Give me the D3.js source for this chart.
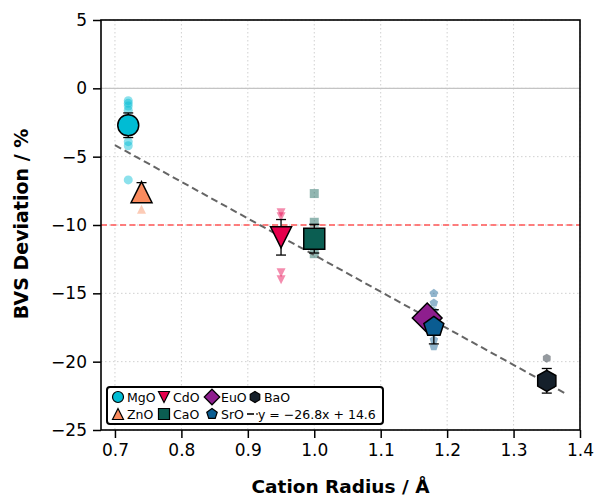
<!DOCTYPE html>
<html>
<head>
<meta charset="utf-8">
<script src="https://cdn.jsdelivr.net/npm/d3@7"></script>
<style>
  body { margin: 0; background: white; }
  text { font-family: "DejaVu Sans", sans-serif; }
</style>
</head>
<body>
<div id="chart"></div>
<script>
// oxides, cation radius (Å) and mean BVS deviation (%)
var oxides  = ["MgO", "ZnO", "CdO", "CaO", "EuO", "SrO", "BaO"];
var radius  = [0.72, 0.74, 0.95, 1.00, 1.17, 1.18, 1.35];
var meanDev = [-2.7, -7.6, -10.9, -11.0, -16.8, -17.45, -21.4];
var errDev  = [0.9, 0.7, 1.3, 1.05, 0, 1.25, 0.9];
var shapes  = ["o", "^", "v", "s", "D", "p", "h"];
var colors  = ["#00bcd4", "#f98b5e", "#e6004c", "#0b5e52", "#8e1e8e", "#0a5c91", "#15202b"];

// individual structures (faint points)
var samples = [
  [-0.9, -1.1, -1.3, -1.6, -3.9, -4.2, -6.7],
  [-8.85],
  [-9.1, -9.4, -13.5, -14.0],
  [-7.7, -9.8, -12.1],
  [],
  [-15.0, -15.7, -16.3, -18.4, -18.9],
  [-19.75]
];

// linear fit
var fitSlope = -26.8, fitIntercept = 14.6;
var fitRange = [0.70, 1.38];
var fitLabel = "y = \u221226.8x + 14.6";

var xTicks = [0.7, 0.8, 0.9, 1.0, 1.1, 1.2, 1.3, 1.4];
var yTicks = [5, 0, -5, -10, -15, -20, -25];

var width = 597, height = 496;
var svg = d3.select("#chart").append("svg")
  .attr("width", width)
  .attr("height", height);

var x = d3.scaleLinear().domain([0.679, 1.4]).range([101, 580]);
var y = d3.scaleLinear().domain([-25, 5]).range([430, 20]);

// marker shapes like matplotlib, ms = marker size in px
function marker(shape, ms) {
  var h = ms / 2, pts;
  if (shape == "o") {
    return "M" + h + ",0A" + h + "," + h + " 0 1,1 " + (-h) + ",0A" + h + "," + h + " 0 1,1 " + h + ",0Z";
  }
  if (shape == "^") pts = [[0, -h], [-h, h], [h, h]];
  else if (shape == "v") pts = [[0, h], [-h, -h], [h, -h]];
  else if (shape == "s") pts = [[-h, -h], [h, -h], [h, h], [-h, h]];
  else if (shape == "D") { var d = ms / Math.SQRT2; pts = [[0, -d], [d, 0], [0, d], [-d, 0]]; }
  else {
    var n = shape == "p" ? 5 : 6;
    pts = d3.range(n).map(function(i) {
      var a = -Math.PI / 2 + i * 2 * Math.PI / n;
      return [h * Math.cos(a), h * Math.sin(a)];
    });
  }
  return "M" + pts.map(function(p) { return p[0].toFixed(2) + "," + p[1].toFixed(2); }).join("L") + "Z";
}

// grid
svg.append("g").selectAll("line")
  .data(xTicks).enter().append("line")
  .attr("x1", function(d) { return x(d); })
  .attr("x2", function(d) { return x(d); })
  .attr("y1", y(5)).attr("y2", y(-25))
  .style("stroke", "#d0d0d0").style("stroke-width", 1).style("stroke-dasharray", "1.5,2.5");
svg.append("g").selectAll("line")
  .data(yTicks).enter().append("line")
  .attr("x1", x.range()[0]).attr("x2", x.range()[1])
  .attr("y1", function(d) { return y(d); })
  .attr("y2", function(d) { return y(d); })
  .style("stroke", "#d0d0d0").style("stroke-width", 1).style("stroke-dasharray", "1.5,2.5");

// zero line and -10 % threshold
svg.append("line")
  .attr("x1", x.range()[0]).attr("x2", x.range()[1])
  .attr("y1", y(0)).attr("y2", y(0))
  .style("stroke", "#c4c4c4").style("stroke-width", 1.2);
svg.append("line")
  .attr("x1", x.range()[0]).attr("x2", x.range()[1])
  .attr("y1", y(-10)).attr("y2", y(-10))
  .style("stroke", "#ff5555").style("stroke-width", 1.6).style("stroke-dasharray", "6,3.5");

// faint individual points
oxides.forEach(function(ox, i) {
  svg.append("g").selectAll("path")
    .data(samples[i]).enter().append("path")
    .attr("d", marker(shapes[i], 9))
    .attr("transform", function(d) { return "translate(" + x(radius[i]) + "," + y(d) + ")"; })
    .style("fill", colors[i]).style("opacity", 0.45);
});

// fit line
svg.append("line")
  .attr("x1", x(fitRange[0])).attr("y1", y(fitSlope * fitRange[0] + fitIntercept))
  .attr("x2", x(fitRange[1])).attr("y2", y(fitSlope * fitRange[1] + fitIntercept))
  .style("stroke", "#555").style("stroke-width", 2).style("stroke-dasharray", "7,4")
  .style("opacity", 0.9);

// error bars
oxides.forEach(function(ox, i) {
  if (!errDev[i]) return;
  var g = svg.append("g").style("stroke", "black").style("stroke-width", 1.3);
  var cx = x(radius[i]);
  var top = y(meanDev[i] + errDev[i]), bot = y(meanDev[i] - errDev[i]);
  g.append("line").attr("x1", cx).attr("x2", cx).attr("y1", top).attr("y2", bot);
  g.append("line").attr("x1", cx - 5).attr("x2", cx + 5).attr("y1", top).attr("y2", top);
  g.append("line").attr("x1", cx - 5).attr("x2", cx + 5).attr("y1", bot).attr("y2", bot);
});

// mean markers
svg.append("g").selectAll("path")
  .data(oxides).enter().append("path")
  .attr("d", function(d, i) { return marker(shapes[i], 21); })
  .attr("transform", function(d, i) { return "translate(" + x(radius[i]) + "," + y(meanDev[i]) + ")"; })
  .style("fill", function(d, i) { return colors[i]; })
  .style("stroke", "black").style("stroke-width", 1.5);

// axes
var xAxis = svg.append("g")
  .attr("transform", "translate(0," + y(-25) + ")")
  .call(d3.axisBottom(x).tickValues(xTicks).tickFormat(d3.format(".1f")).tickSizeOuter(0).tickSize(8).tickPadding(6));
var yAxis = svg.append("g")
  .attr("transform", "translate(" + x.range()[0] + ",0)")
  .call(d3.axisLeft(y).tickValues(yTicks).tickFormat(function(d) { return d < 0 ? "\u2212" + (-d) : d; }).tickSizeOuter(0).tickSize(8).tickPadding(6));
[xAxis, yAxis].forEach(function(a) {
  a.select(".domain").remove();
  a.selectAll("line").style("stroke", "black").style("stroke-width", 1.5);
  a.selectAll("text").style("font-size", "17px").style("font-family", "DejaVu Sans").style("fill", "black");
});

// frame
svg.append("rect")
  .attr("x", x.range()[0]).attr("y", y(5))
  .attr("width", x.range()[1] - x.range()[0]).attr("height", y(-25) - y(5))
  .style("fill", "none").style("stroke", "black").style("stroke-width", 1.6);

// axis titles
svg.append("text")
  .attr("x", (x.range()[0] + x.range()[1]) / 2).attr("y", 493)
  .attr("text-anchor", "middle")
  .style("font-size", "18.5px").style("font-weight", "bold")
  .text("Cation Radius / \u00c5");
svg.append("text")
  .attr("transform", "translate(28," + 224 + ") rotate(-90)")
  .attr("text-anchor", "middle")
  .style("font-size", "19px").style("font-weight", "bold")
  .text("BVS Deviation / %");

// legend
var leg = svg.append("g");
leg.append("rect")
  .attr("x", 107).attr("y", 387).attr("width", 276).attr("height", 37).attr("rx", 3)
  .style("fill", "white").style("stroke", "black").style("stroke-width", 2);
var legCols = [118, 164, 212, 255];
var legRows = [397, 414];
var legOrder = [0, 2, 4, 6, 1, 3, 5];
legOrder.forEach(function(k, j) {
  var cx = legCols[j % 4], cy = legRows[Math.floor(j / 4)];
  leg.append("path")
    .attr("d", marker(shapes[k], 11))
    .attr("transform", "translate(" + cx + "," + cy + ")")
    .style("fill", colors[k]).style("stroke", "black").style("stroke-width", 1.2);
  leg.append("text")
    .attr("x", cx + 9).attr("y", cy + 4.5)
    .style("font-size", "12.5px")
    .text(oxides[k]);
});
leg.append("line")
  .attr("x1", legCols[3] - 8).attr("x2", legCols[3] - 1)
  .attr("y1", legRows[1]).attr("y2", legRows[1])
  .style("stroke", "#333").style("stroke-width", 2);
leg.append("circle")
  .attr("cx", legCols[3] + 2).attr("cy", legRows[1]).attr("r", 0.9)
  .style("fill", "#333");
leg.append("text")
  .attr("x", legCols[3] + 3).attr("y", legRows[1] + 4.5)
  .style("font-size", "12.5px")
  .text(fitLabel);
</script>
</body>
</html>
